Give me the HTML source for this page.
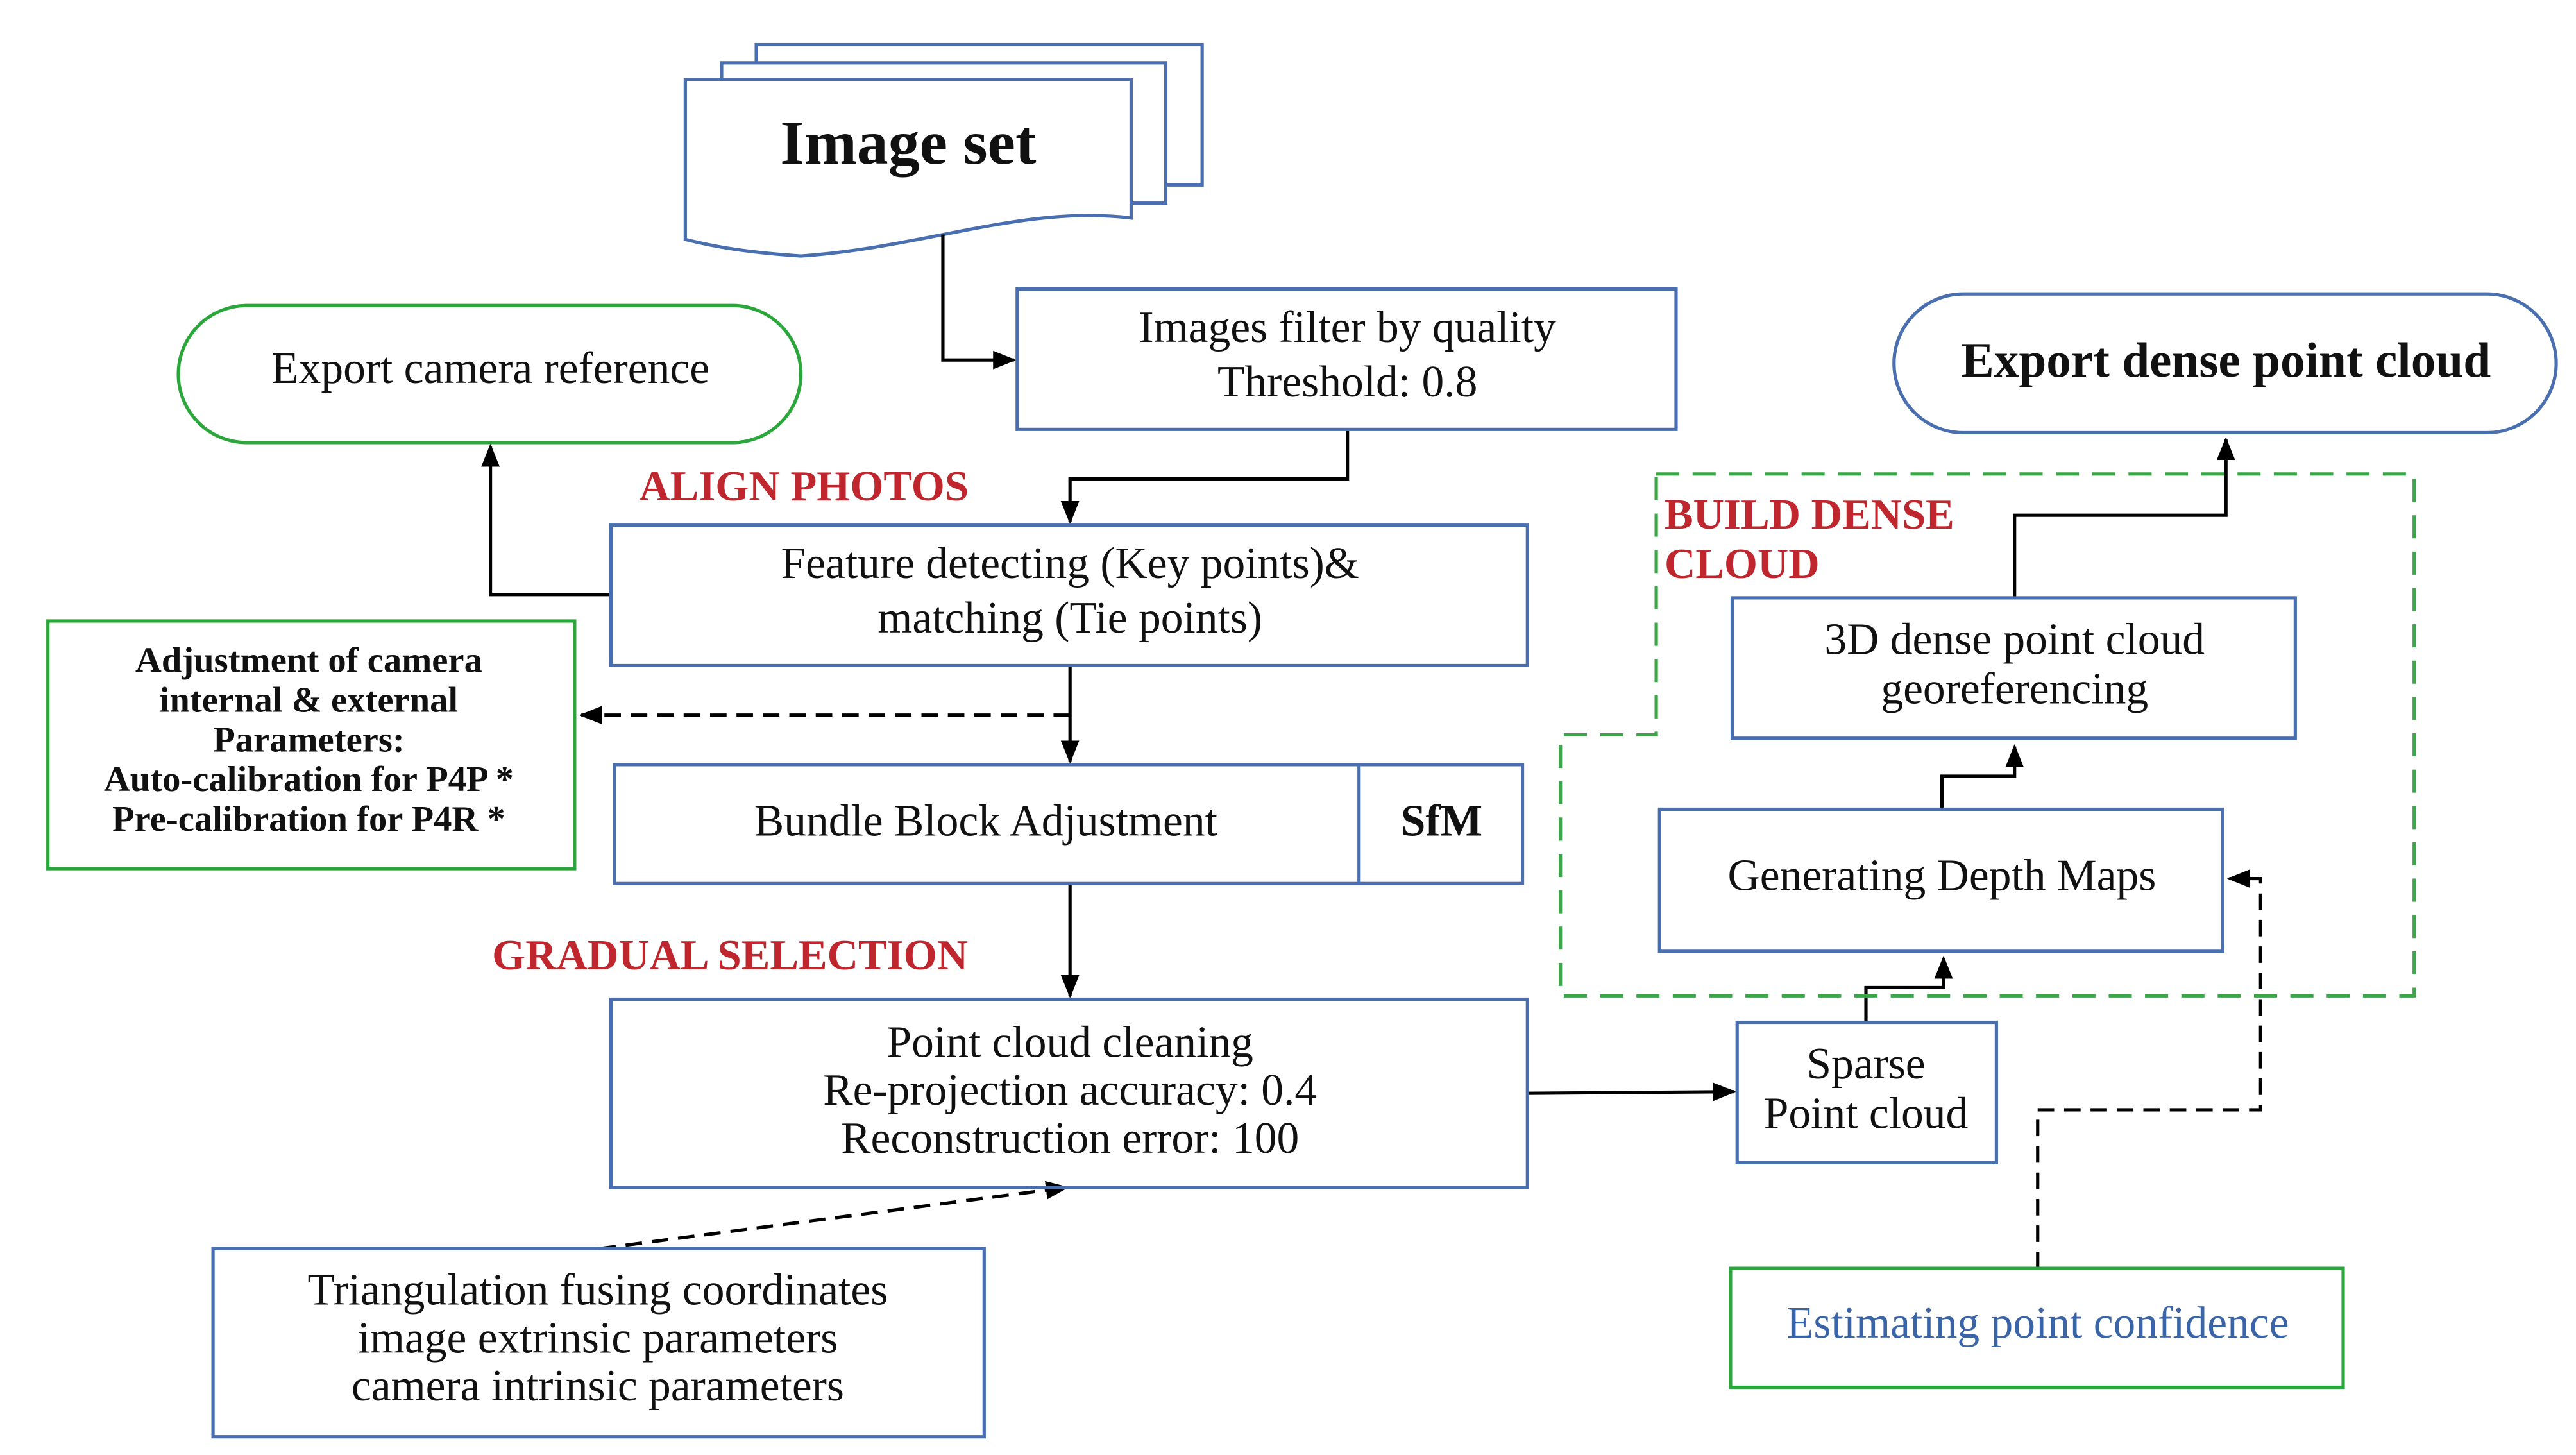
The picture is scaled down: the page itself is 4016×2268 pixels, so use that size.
<!DOCTYPE html>
<html><head><meta charset="utf-8"><style>
html,body{margin:0;padding:0;background:#fff;}
svg{display:block;}
text{font-family:"Liberation Serif",serif;fill:#111;}
</style></head><body>
<svg width="4016" height="2268" viewBox="0 0 1560 881" xmlns="http://www.w3.org/2000/svg">
<defs>
<marker id="a" viewBox="0 0 10 10" refX="9" refY="5" markerWidth="9" markerHeight="9" markerUnits="userSpaceOnUse" orient="auto"><path d="M0,0L10,5L0,10Z" fill="#000"/></marker>
<marker id="b" viewBox="0 0 10 10" refX="9" refY="5" markerWidth="14" markerHeight="14" markerUnits="userSpaceOnUse" orient="auto"><path d="M0,1L10,5L0,9Z" fill="#000"/></marker>
</defs>
<g fill="#fff" stroke="#4a6fb0" stroke-width="2">
<rect x="458" y="27" width="270" height="85"/>
<rect x="437" y="38" width="269" height="85"/>
<path d="M415,48H685V132C620,124 560,150 485,155C455,153 435,150 415,145Z"/>
</g>
<text x="550" y="99" font-size="38" font-weight="bold" text-anchor="middle">Image set</text>

<g fill="none" stroke="#000" stroke-width="2">
<path d="M571,142V218H614" marker-end="url(#b)"/>
<path d="M816,261V290H648V316" marker-end="url(#b)"/>
<path d="M370,360H297V270" marker-end="url(#b)"/>
<path d="M648,403V461" marker-end="url(#b)"/>
<path d="M648,536V603" marker-end="url(#b)"/>
<path d="M925,662L1050,661" marker-end="url(#b)"/>
<path d="M1130,619V598H1177V580" marker-end="url(#b)"/>
<path d="M1176,490V470H1220V452" marker-end="url(#b)"/>
<path d="M1220,362V312H1348V266" marker-end="url(#b)"/>
</g>
<g fill="none" stroke="#000" stroke-width="2" stroke-dasharray="10,6">
<path d="M648,433H352" marker-end="url(#b)"/>
<path d="M363,756L646,719" marker-end="url(#b)"/>
<path d="M1234,768V672H1369V532H1350" marker-end="url(#b)"/>
</g>

<path d="M1003,287H1462V603H945V445H1003Z" fill="none" stroke="#3aa647" stroke-width="2" stroke-dasharray="14,8"/>

<g fill="none" stroke-width="2">
<rect x="616" y="175" width="399" height="85" stroke="#4a6fb0"/>
<rect x="108" y="185" width="377" height="83" rx="41.5" stroke="#2aa63a"/>
<rect x="1147" y="178" width="401" height="84" rx="42" stroke="#4a6fb0"/>
<rect x="370" y="318" width="555" height="85" stroke="#4a6fb0"/>
<rect x="29" y="376" width="319" height="150" stroke="#2aa63a"/>
<rect x="372" y="463" width="550" height="72" stroke="#4a6fb0"/>
<line x1="823" y1="463" x2="823" y2="535" stroke="#4a6fb0"/>
<rect x="370" y="605" width="555" height="114" stroke="#4a6fb0"/>
<rect x="1052" y="619" width="157" height="85" stroke="#4a6fb0"/>
<rect x="1005" y="490" width="341" height="86" stroke="#4a6fb0"/>
<rect x="1049" y="362" width="341" height="85" stroke="#4a6fb0"/>
<rect x="1048" y="768" width="371" height="72" stroke="#2aa63a"/>
<rect x="129" y="756" width="467" height="114" stroke="#4a6fb0"/>
</g>

<g font-size="27" text-anchor="middle">
<text x="816" y="207">Images filter by quality</text>
<text x="816" y="240">Threshold: 0.8</text>
<text x="297" y="232">Export camera reference</text>
<text x="1348" y="228" font-size="30" font-weight="bold">Export dense point cloud</text>
<text x="648" y="350">Feature detecting (Key points)&amp;</text>
<text x="648" y="383">matching (Tie points)</text>
<text x="597" y="506">Bundle Block Adjustment</text>
<text x="873" y="506" font-weight="bold">SfM</text>
<text x="648" y="640">Point cloud cleaning</text>
<text x="648" y="669">Re-projection accuracy: 0.4</text>
<text x="648" y="698">Reconstruction error: 100</text>
<text x="1130" y="653">Sparse</text>
<text x="1130" y="683">Point cloud</text>
<text x="1176" y="539">Generating Depth Maps</text>
<text x="1220" y="396">3D dense point cloud</text>
<text x="1220" y="426">georeferencing</text>
<text x="1234" y="810" fill="#3a64a8" style="fill:#3a64a8">Estimating point confidence</text>
<text x="362" y="790">Triangulation fusing coordinates</text>
<text x="362" y="819">image extrinsic parameters</text>
<text x="362" y="848">camera intrinsic parameters</text>
</g>
<g font-size="22" font-weight="bold" text-anchor="middle">
<text x="187" y="407">Adjustment of camera</text>
<text x="187" y="431">internal &amp; external</text>
<text x="187" y="455">Parameters:</text>
<text x="187" y="479">Auto-calibration for P4P *</text>
<text x="187" y="503">Pre-calibration for P4R *</text>
</g>
<g font-size="26" font-weight="bold" style="fill:#c0262d">
<text x="387" y="303" style="fill:#c0262d">ALIGN PHOTOS</text>
<text x="298" y="587" style="fill:#c0262d">GRADUAL SELECTION</text>
<text x="1008" y="320" style="fill:#c0262d">BUILD DENSE</text>
<text x="1008" y="350" style="fill:#c0262d">CLOUD</text>
</g>
</svg>
</body></html>
